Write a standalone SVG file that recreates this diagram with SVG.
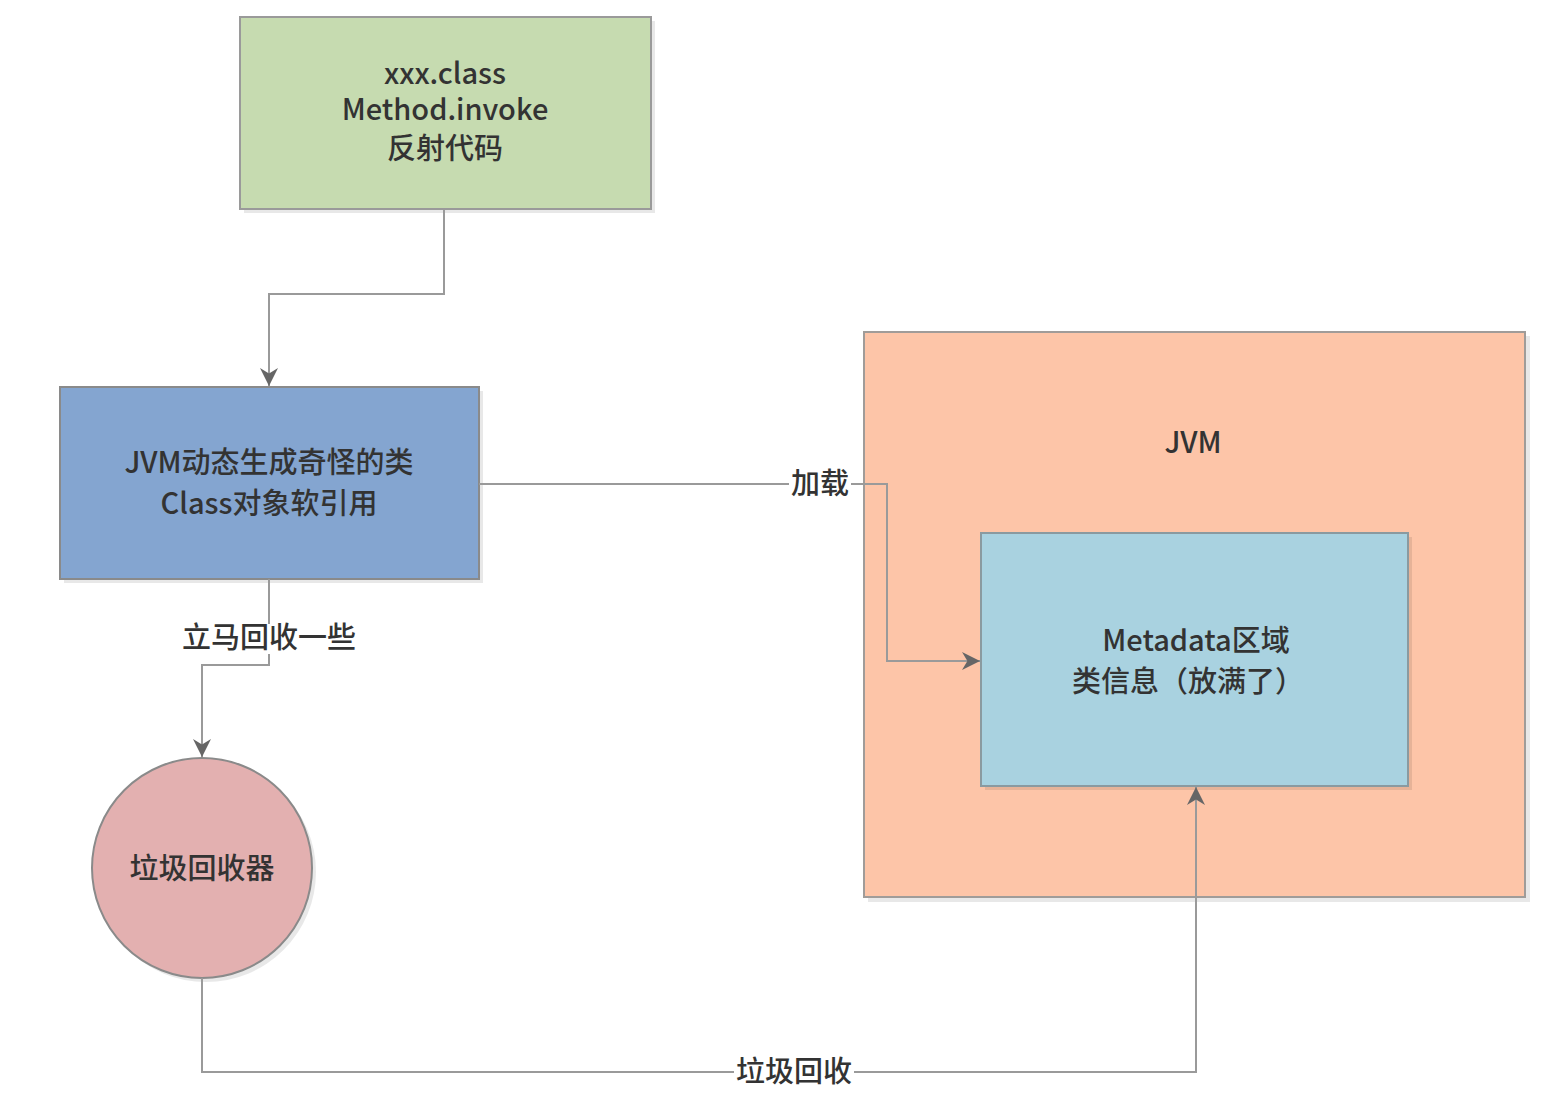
<svg xmlns="http://www.w3.org/2000/svg" width="1552" height="1098" viewBox="0 0 1552 1098">
<defs>
<marker id="arr" viewBox="0 0 10 10" refX="10" refY="5" markerWidth="18" markerHeight="18" markerUnits="userSpaceOnUse" orient="auto">
<path d="M0,0 L10,5 L0,10 L3,5 Z" fill="#666"/>
</marker>
</defs>
<style>
.t{font-family:"Noto Sans CJK SC","Open Sans",sans-serif;font-size:29px;fill:#333;text-anchor:middle;font-weight:500}
.sh{fill:#000;opacity:0.09}
.c{fill:none;stroke:#9a9a9a;stroke-width:2}
</style>
<rect width="1552" height="1098" fill="#fff"/>
<g id="jvm">
<rect class="sh" x="868" y="336" width="662" height="566"/>
<rect x="864" y="332" width="661" height="565" fill="#fdc5a8" stroke="#a09c99" stroke-width="2"/>
<text class="t" x="1193" y="453">JVM</text>
</g>
<g id="reflect">
<rect class="sh" x="244" y="21" width="411" height="192"/>
<rect x="240" y="17" width="411" height="192" fill="#c6dbb0" stroke="#9a9a9a" stroke-width="2"/>
<text class="t" x="445" y="84">xxx.class</text>
<text class="t" x="445" y="120">Method.invoke</text>
<text class="t" x="445" y="159">反射代码</text>
</g>
<g id="dyn">
<rect class="sh" x="64" y="391" width="419" height="192"/>
<rect x="60" y="387" width="419" height="192" fill="#84a5d0" stroke="#8a8a8a" stroke-width="2"/>
<text class="t" x="269" y="473">JVM动态生成奇怪的类</text>
<text class="t" x="269" y="514">Class对象软引用</text>
</g>
<g id="meta">
<rect class="sh" x="985" y="537" width="427" height="253"/>
<rect x="981" y="533" width="427" height="253" fill="#a9d2e0" stroke="#8a9aa0" stroke-width="2"/>
<text class="t" x="1196" y="651">Metadata区域</text>
<text class="t" x="1188" y="692">类信息（放满了）</text>
</g>
<g id="gc">
<circle class="sh" cx="206" cy="872" r="110"/>
<circle cx="202" cy="868" r="110" fill="#e3b0b0" stroke="#8a8a8a" stroke-width="2"/>
<text class="t" x="202" y="879">垃圾回收器</text>
</g>
<g id="connectors">
<path class="c" d="M444,209 V294 H269 V386" marker-end="url(#arr)"/>
<path class="c" d="M479,484 H887 V661 H980" marker-end="url(#arr)"/>
<path class="c" d="M269,579 V665 H202 V757" marker-end="url(#arr)"/>
<path class="c" d="M202,978 V1072 H1196 V787" marker-end="url(#arr)"/>
</g>
<g id="labels">
<rect x="789" y="468" width="62" height="32" fill="#fff"/>
<text class="t" x="820" y="494">加载</text>
<rect x="180" y="624" width="180" height="30" fill="#fff"/>
<text class="t" x="269" y="648">立马回收一些</text>
<rect x="734" y="1056" width="120" height="32" fill="#fff"/>
<text class="t" x="794" y="1082">垃圾回收</text>
</g>
</svg>
